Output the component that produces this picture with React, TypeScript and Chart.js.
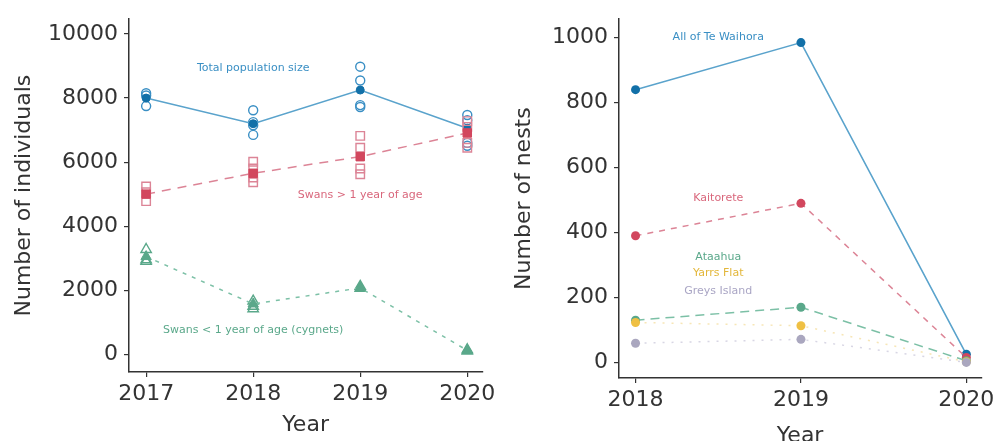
import React, { useEffect, useRef } from "react";
import { Chart, registerables } from "chart.js";
Chart.register(...registerables);

// ---------- data: left panel (population) ----------
const popYears = [2017, 2018, 2019, 2020];
const popYTicks = [0, 2000, 4000, 6000, 8000, 10000];
const totalMean = [8000, 7200, 8250, 7060];
const totalObs = [
  [8150, 8080, 7750],
  [7620, 7250, 7150, 6850],
  [8980, 8550, 7780, 7720],
  [7470, 7310, 6600, 6510],
];
const adultMean = [5000, 5650, 6170, 6910];
const adultObs = [
  [5240, 5060, 4780],
  [6010, 5800, 5520, 5370],
  [6820, 6450, 5800, 5620],
  [7280, 7100, 6600, 6450],
];
const cygnetMean = [3050, 1570, 2070, 120];
const cygnetObs = [
  [3270, 2950, 2900],
  [1660, 1500, 1420],
  [2120, 2060],
  [140, 100],
];

// ---------- data: right panel (nests) ----------
const nestYears = [2018, 2019, 2020];
const nestYTicks = [0, 200, 400, 600, 800, 1000];
const nestsAll = [840, 985, 25];
const nestsKaitorete = [390, 490, 15];
const nestsAtaahua = [130, 170, 5];
const nestsYarrs = [123, 113, 2];
const nestsGreys = [59, 71, 0];

// ---------- colours ----------
const BLUE_LINE = "#5aa3cc";
const BLUE_MARK = "#1270a8";
const BLUE_TEXT = "#3a8fc4";
const RED_LINE = "#dc8496";
const RED_MARK = "#d2475e";
const RED_TEXT = "#d9677c";
const GREEN_LINE = "#7cc0a6";
const GREEN_MARK = "#5aa88a";
const YELLOW = "#efc043";
const GREY = "#aaa7bf";
const AXIS = "#333333";

const FONT = "DejaVu Sans";

const toPts = (xs: number[], ys: number[]) => xs.map((x, i) => ({ x, y: ys[i] }));
const obsPts = (xs: number[], obs: number[][]) =>
  obs.flatMap((vals, i) => vals.map((y) => ({ x: xs[i], y })));

type Lbl = { text: string; x: number; y: number; color: string };

const textLabels = (items: Lbl[]) => ({
  id: "textLabels",
  afterDatasetsDraw(chart: any) {
    const { ctx, scales } = chart;
    ctx.save();
    ctx.font = `11px "${FONT}"`;
    ctx.textAlign = "center";
    ctx.textBaseline = "middle";
    items.forEach((it) => {
      ctx.fillStyle = it.color;
      ctx.fillText(it.text, scales.x.getPixelForValue(it.x), scales.y.getPixelForValue(it.y));
    });
    ctx.restore();
  },
});

function axes(o: {
  xMin: number; xMax: number; xTicks: number[];
  yMin: number; yMax: number; yTicks: number[];
  yTitle: string; yWidth: number; xHeight: number;
}) {
  const tickFont = { family: FONT, size: 22 };
  const titleFont = { family: FONT, size: 22 };
  const grid = { display: true, drawOnChartArea: false, drawTicks: true, tickLength: 5, color: AXIS, lineWidth: 1.2 };
  const border = { display: true, color: AXIS, width: 1.5 };
  return {
    x: {
      type: "linear",
      min: o.xMin,
      max: o.xMax,
      afterBuildTicks: (s: any) => { s.ticks = o.xTicks.map((v) => ({ value: v })); },
      afterFit: (s: any) => { s.height = o.xHeight; },
      grid,
      border,
      ticks: { font: tickFont, color: AXIS, padding: 4, maxRotation: 0, autoSkip: false, callback: (v: any) => String(v) },
      title: { display: true, text: "Year", font: titleFont, color: AXIS, padding: { top: 0, bottom: 3 } },
    },
    y: {
      type: "linear",
      min: o.yMin,
      max: o.yMax,
      afterBuildTicks: (s: any) => { s.ticks = o.yTicks.map((v) => ({ value: v })); },
      afterFit: (s: any) => { s.width = o.yWidth; },
      grid,
      border,
      ticks: { font: tickFont, color: AXIS, padding: 6, autoSkip: false, callback: (v: any) => String(v) },
      title: { display: true, text: o.yTitle, font: titleFont, color: AXIS, padding: { top: 11, bottom: 0 } },
    },
  };
}

function PopulationChart() {
  const ref = useRef<HTMLCanvasElement>(null);
  useEffect(() => {
    const chart = new Chart(ref.current as HTMLCanvasElement, {
      type: "scatter",
      data: {
        datasets: [
          { data: toPts(popYears, cygnetMean), showLine: true, borderColor: GREEN_LINE, borderWidth: 1.5, borderDash: [4, 6],
            pointStyle: "triangle", pointRadius: 6, pointBackgroundColor: GREEN_MARK, pointBorderColor: GREEN_MARK, pointBorderWidth: 1 },
          { data: obsPts(popYears, cygnetObs), showLine: false, pointStyle: "triangle", pointRadius: 6,
            pointBackgroundColor: "rgba(0,0,0,0)", pointBorderColor: GREEN_MARK, pointBorderWidth: 1.4 },
          { data: toPts(popYears, adultMean), showLine: true, borderColor: RED_LINE, borderWidth: 1.5, borderDash: [9, 7],
            pointStyle: "rect", pointRadius: 6, pointBackgroundColor: RED_MARK, pointBorderColor: RED_MARK, pointBorderWidth: 1 },
          { data: obsPts(popYears, adultObs), showLine: false, pointStyle: "rect", pointRadius: 6,
            pointBackgroundColor: "rgba(0,0,0,0)", pointBorderColor: RED_LINE, pointBorderWidth: 1.4 },
          { data: toPts(popYears, totalMean), showLine: true, borderColor: BLUE_LINE, borderWidth: 1.6,
            pointStyle: "circle", pointRadius: 4, pointBackgroundColor: BLUE_MARK, pointBorderColor: BLUE_MARK, pointBorderWidth: 1 },
          { data: obsPts(popYears, totalObs), showLine: false, pointStyle: "circle", pointRadius: 4.5,
            pointBackgroundColor: "rgba(0,0,0,0)", pointBorderColor: BLUE_TEXT, pointBorderWidth: 1.4 },
        ],
      },
      options: {
        responsive: false,
        animation: false,
        events: [],
        layout: { padding: { top: 15, right: 17, left: 0, bottom: 0 } },
        plugins: { legend: { display: false }, tooltip: { enabled: false } },
        scales: axes({
          xMin: 2016.84, xMax: 2020.14, xTicks: popYears,
          yMin: -555, yMax: 10463, yTicks: popYTicks,
          yTitle: "Number of individuals", yWidth: 129, xHeight: 69,
        }) as any,
      },
      plugins: [
        textLabels([
          { text: "Total population size", x: 2018.0, y: 8920, color: BLUE_TEXT },
          { text: "Swans > 1 year of age", x: 2019.0, y: 4970, color: RED_TEXT },
          { text: "Swans < 1 year of age (cygnets)", x: 2018.0, y: 740, color: GREEN_MARK },
        ]),
      ],
    });
    return () => chart.destroy();
  }, []);
  return <canvas ref={ref} width={500} height={441} style={{ display: "block" }} />;
}

function NestChart() {
  const ref = useRef<HTMLCanvasElement>(null);
  useEffect(() => {
    const mk = (vals: number[], line: string, mark: string, dash: number[], width: number) => ({
      data: toPts(nestYears, vals), showLine: true, borderColor: line, borderWidth: width, borderDash: dash,
      pointStyle: "circle", pointRadius: 4.5, pointBackgroundColor: mark, pointBorderColor: mark, pointBorderWidth: 0,
    });
    const chart = new Chart(ref.current as HTMLCanvasElement, {
      type: "scatter",
      data: {
        datasets: [
          mk(nestsGreys, "rgba(190,187,210,0.6)", GREY, [2, 7], 1.5),
          mk(nestsYarrs, "rgba(240,205,110,0.5)", YELLOW, [2, 7], 1.5),
          mk(nestsAtaahua, GREEN_LINE, GREEN_MARK, [9, 6], 1.5),
          mk(nestsKaitorete, RED_LINE, RED_MARK, [6, 6], 1.5),
          mk(nestsAll, BLUE_LINE, BLUE_MARK, [], 1.6),
        ] as any,
      },
      options: {
        responsive: false,
        animation: false,
        events: [],
        layout: { padding: { top: 7, right: 16, left: 0, bottom: 0 } },
        plugins: { legend: { display: false }, tooltip: { enabled: false } },
        scales: axes({
          xMin: 2017.9, xMax: 2020.09, xTicks: nestYears,
          yMin: -48, yMax: 1057, yTicks: nestYTicks,
          yTitle: "Number of nests", yWidth: 119, xHeight: 74,
        }) as any,
      },
      plugins: [
        textLabels([
          { text: "All of Te Waihora", x: 2018.5, y: 1003, color: BLUE_TEXT },
          { text: "Kaitorete", x: 2018.5, y: 505, color: RED_TEXT },
          { text: "Ataahua", x: 2018.5, y: 325, color: GREEN_MARK },
          { text: "Yarrs Flat", x: 2018.5, y: 275, color: "#e3b73a" },
          { text: "Greys Island", x: 2018.5, y: 221, color: "#a9a5c4" },
        ]),
      ],
    });
    return () => chart.destroy();
  }, []);
  return <canvas ref={ref} width={499} height={452} style={{ display: "block" }} />;
}

export default function App() {
  return (
    <div style={{ position: "fixed", left: 0, top: 0, width: 999, height: 441, overflow: "hidden", background: "#ffffff" }}>
      <div style={{ position: "absolute", left: 0, top: 0, width: 500, height: 441 }}>
        <PopulationChart />
      </div>
      <div style={{ position: "absolute", left: 500, top: 0, width: 499, height: 452 }}>
        <NestChart />
      </div>
    </div>
  );
}
